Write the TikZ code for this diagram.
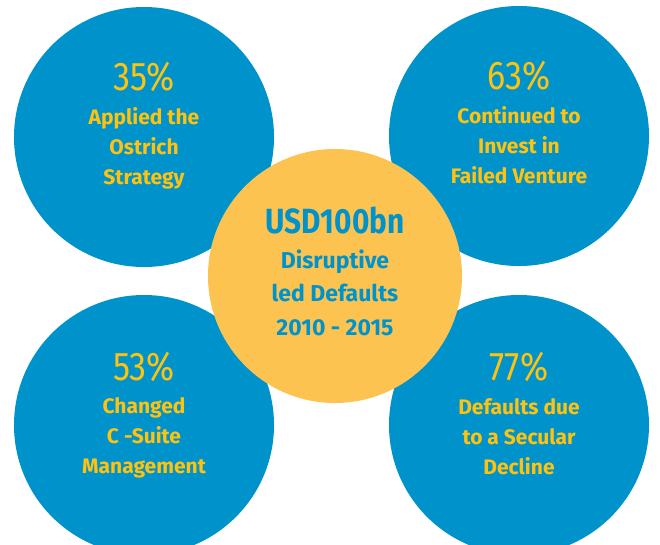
\documentclass[tikz,border=0pt]{standalone}
\usepackage{fontspec}
\setmainfont{Fira Sans}
\newfontfamily\slimfont{Fira Sans}[FakeStretch=0.85]
\usetikzlibrary{positioning}
\definecolor{ocean}{HTML}{0093CB}
\definecolor{honey}{HTML}{FDC350}
\definecolor{gold} {HTML}{FFC20E}

\tikzset{
  bubble/.style={circle,fill=ocean,minimum size=260pt,inner sep=0pt},
  hub/.style={circle,fill=honey,minimum size=254pt,inner sep=0pt},
  share/.style={text=gold,font=\slimfont\fontsize{40}{40}\selectfont,anchor=base,inner sep=0pt},
  % base anchor sits on the last line
  reason/.style={text=gold,font=\fontsize{21}{30}\selectfont\bfseries,
                 align=center,anchor=base,inner sep=0pt},
}

\begin{document}
\begin{tikzpicture}[x=1pt,y=-1pt]
  \useasboundingbox (0,0) rectangle (660,544);
  \clip (0,0) rectangle (660,544);

  % four outer bubbles
  \node[bubble] (ostrich) at (144,137) {};
  \node[bubble] (venture) at (519,136) {};
  \node[bubble] (csuite)  at (144,425) {};
  \node[bubble] (secular) at (519,425) {};

  % centre bubble
  \node[hub] (usd) at (335,276) {};

  \node[share]  (p35) at (144,90)  {35\%};
  \node[reason] (r35) at (144,184) {Applied the\\Ostrich\\Strategy};

  \node[share]  (p63) at (519,89)  {63\%};
  \node[reason] (r63) at (519,183) {Continued to\\Invest in\\Failed Venture};

  \node[share]  (p53) at (144,380) {53\%};
  \node[reason] (r53) at (144,473) {Changed\\C -Suite\\Management};

  \node[share]  (p77) at (519,380) {77\%};
  \node[reason] (r77) at (519,474) {Defaults due\\to a Secular\\Decline};

  \node[share,text=ocean,font=\slimfont\fontsize{35}{35}\selectfont\bfseries] (amt) at (335,233) {USD100bn};
  \node[reason,text=ocean,font=\fontsize{23}{33.5}\selectfont\bfseries] (what) at (335,335)
    {Disruptive\\led Defaults\\2010 - 2015};
\end{tikzpicture}
\end{document}
